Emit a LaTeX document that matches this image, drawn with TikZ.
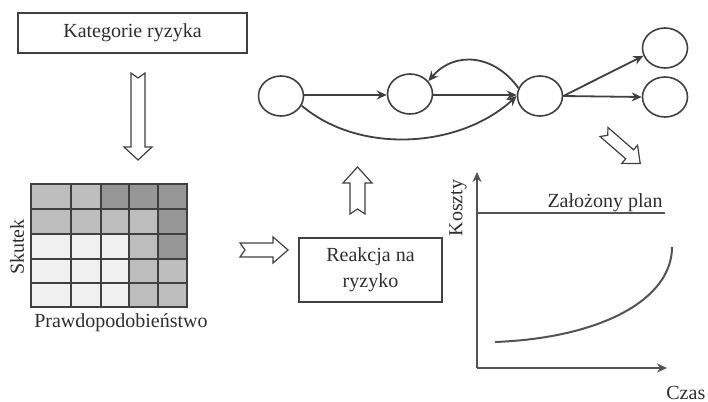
\documentclass[tikz,border=0pt]{standalone}
\usepackage{fontspec}
\setmainfont{Liberation Serif}
\usetikzlibrary{shapes.geometric,arrows.meta}
\definecolor{ln}{HTML}{404040}
\definecolor{txt}{HTML}{2E2E2E}
\definecolor{gA}{HTML}{F0F0F0}
\definecolor{gB}{HTML}{BDBDBD}
\definecolor{gC}{HTML}{969696}
\newcommand{\blockarr}[8]{%
  \draw[barrow,shift={(#1,#2)},rotate=#3] (0,#5) -- ({#4-#7},#5) -- ({#4-#7},#6) -- (#4,0) -- ({#4-#7},-#6) -- ({#4-#7},-#5) -- (0,-#5) -- (#8,0) -- cycle;}
\begin{document}
\begin{tikzpicture}[x=0.5pt,y=-0.5pt,
  every node/.style={text=txt,font=\fontsize{10}{13}\selectfont},
  box/.style={draw=ln,line width=0.8pt,inner sep=0pt,align=center},
  st/.style={draw=ln,line width=0.8pt,ellipse,minimum width=22.5pt,minimum height=20pt,inner sep=0pt},
  edge/.style={draw=ln,line width=0.9pt,-{Stealth[length=5pt,width=4.5pt]}},
  barrow/.style={draw=ln,line width=0.6pt,fill=white,line join=miter},
  axis/.style={draw=ln!90,line width=1pt,-{Stealth[length=5pt,width=4.5pt]}},
  cell/.style={draw=ln,line width=1pt}]
\useasboundingbox (0,0) rectangle (708,402);

% top box
\node[box,minimum width=114.5pt,minimum height=20pt] (kat) at (132.5,33) {Kategorie ryzyka};
\blockarr{138}{73}{-90}{87}{7}{14}{13}{5}

% risk matrix
\def\cx{{31,71,101,129,158,187}}
\def\ry{{184,209,234,259,283,307}}
\foreach \r/\row in {0/{gB,gB,gC,gC,gC},1/{gB,gB,gB,gB,gC},2/{gA,gA,gA,gB,gC},3/{gA,gA,gA,gB,gB},4/{gA,gA,gA,gB,gB}}{
  \foreach \c [count=\i from 0] in \row {
    \pgfmathsetmacro\xa{\cx[\i]}\pgfmathsetmacro\xb{\cx[\i+1]}
    \pgfmathsetmacro\ya{\ry[\r]}\pgfmathsetmacro\yb{\ry[\r+1]}
    \filldraw[cell,fill=\c] (\xa,\ya) rectangle (\xb,\yb);
  }
}
\node[rotate=90] (skutek) at (17,247) {Skutek};
\node (praw) at (121,323) {Prawdopodobieństwo};

% arrows around reaction box
\blockarr{240}{250}{0}{48}{7}{13}{15}{5}
\node[box,minimum width=71.5pt,minimum height=32pt] (reak) at (370.5,270) {Reakcja na\\ryzyko};
\blockarr{357.5}{214}{90}{47}{7.5}{14.5}{16}{5}

% network
\node[st] (c1) at (281,96) {};
\node[st] (c2) at (410,94) {};
\node[st] (c3) at (540,96) {};
\node[st] (c4) at (665,48) {};
\node[st] (c5) at (665,97) {};
\draw[edge] (c1.east |- 0,95) -- (c2.west |- 0,95);
\draw[edge] (c2.east |- 0,95) -- (c3.west |- 0,95);
\draw[edge] (c1.-25) .. controls (360,155) and (460,148) .. (c3.west);
\draw[edge] (c3.160) .. controls (495,55) and (455,50) .. (c2.35);
\draw[edge] (c3.east) -- (c4.200);
\draw[edge] (c3.east) -- (c5.west);
\blockarr{604}{132}{-41}{48}{6}{12}{14}{5}

% chart
\coordinate (o) at (477,368);
\coordinate (ytop) at (477,172);
\coordinate (xend) at (667,368);
\coordinate (p0) at (477,213);
\coordinate (p1) at (665,213);
\coordinate (k0) at (495,342);
\coordinate (k1) at (672,247);
\draw[axis] (o) -- (ytop);
\draw[axis] (o) -- (xend);
\draw[draw=ln!90,line width=1pt] (p0) -- (p1);
\draw[draw=ln!90,line width=1pt] (k0) .. controls (600,338) and (672,300) .. (k1);
\node (plan) at (605,203) {Założony plan};
\node[rotate=90] (koszty) at (458,208) {Koszty};
\node[anchor=west,inner sep=0pt] (czas) at (666,393) {Czas};
\end{tikzpicture}
\end{document}
